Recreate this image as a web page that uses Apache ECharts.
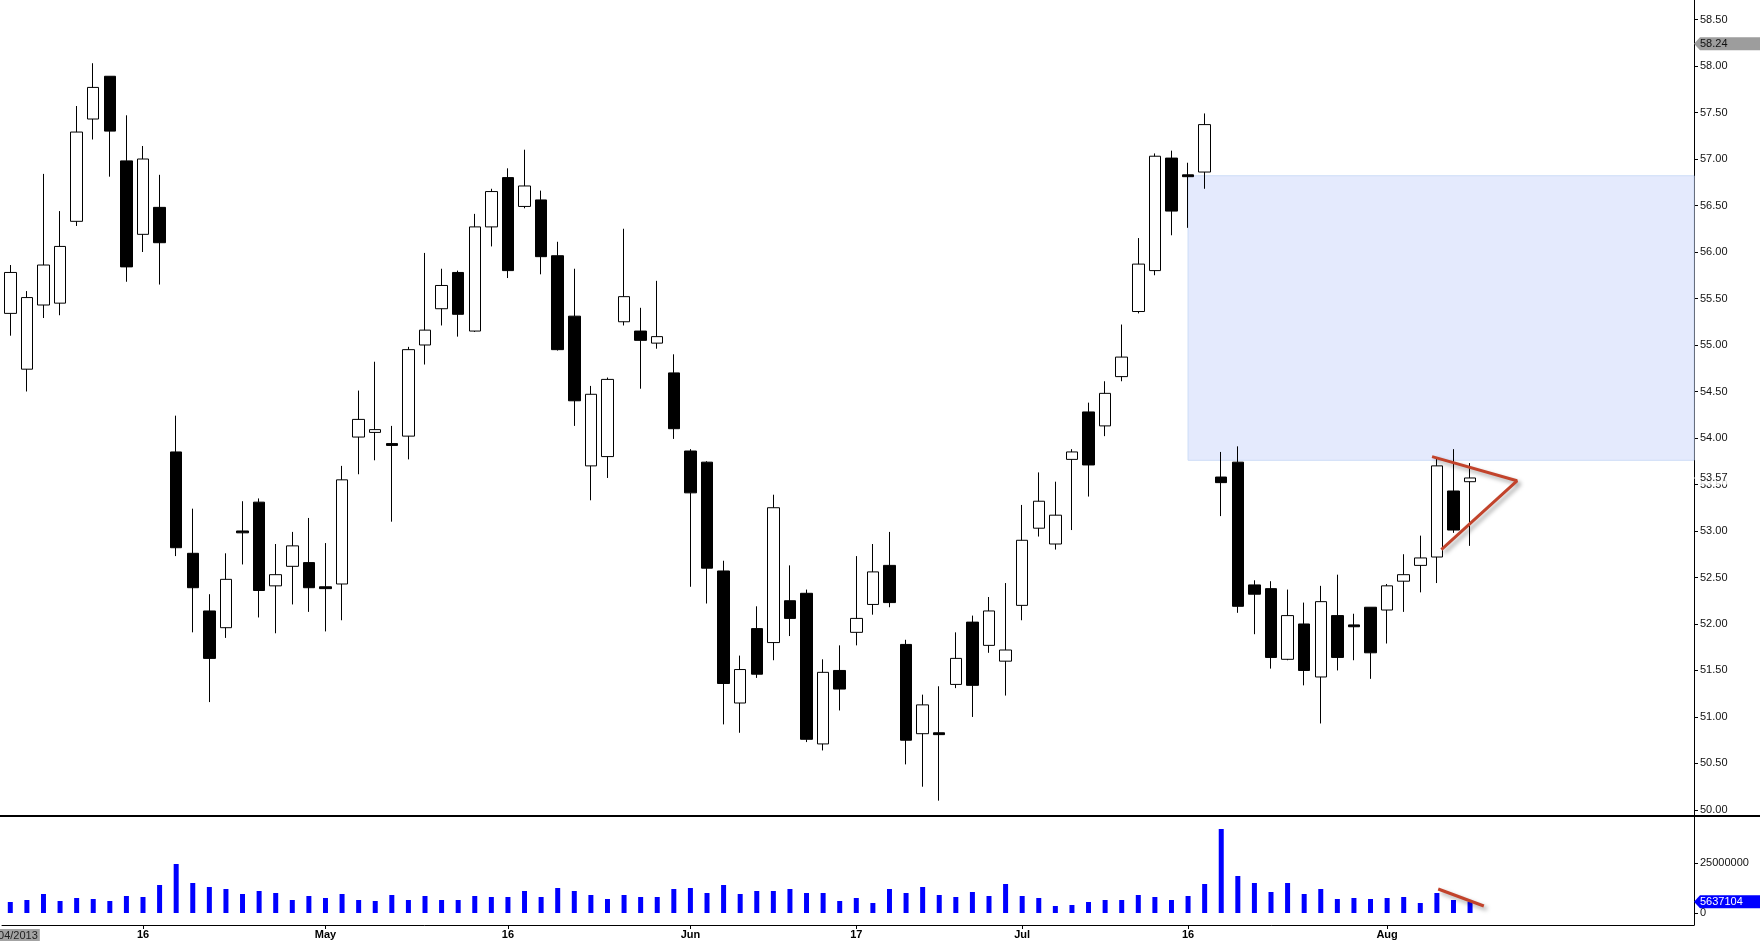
<!DOCTYPE html>
<html>
<head>
<meta charset="utf-8">
<script src="https://cdn.jsdelivr.net/npm/echarts@6/dist/echarts.min.js"></script>
<style>html,body{margin:0;padding:0;background:#fff;overflow:hidden}#c{width:1760px;height:942px}</style>
</head>
<body>
<div id="c"></div>
<script>
// ---- categories (trading days, 2013) ----
const dates = [
 '2013-04-04','2013-04-05','2013-04-08','2013-04-09','2013-04-10','2013-04-11','2013-04-12','2013-04-15','2013-04-16','2013-04-17',
 '2013-04-18','2013-04-19','2013-04-22','2013-04-23','2013-04-24','2013-04-25','2013-04-26','2013-04-29','2013-04-30','2013-05-01',
 '2013-05-02','2013-05-03','2013-05-06','2013-05-07','2013-05-08','2013-05-09','2013-05-10','2013-05-13','2013-05-14','2013-05-15',
 '2013-05-16','2013-05-17','2013-05-20','2013-05-21','2013-05-22','2013-05-23','2013-05-24','2013-05-28','2013-05-29','2013-05-30',
 '2013-05-31','2013-06-03','2013-06-04','2013-06-05','2013-06-06','2013-06-07','2013-06-10','2013-06-11','2013-06-12','2013-06-13',
 '2013-06-14','2013-06-17','2013-06-18','2013-06-19','2013-06-20','2013-06-21','2013-06-24','2013-06-25','2013-06-26','2013-06-27',
 '2013-06-28','2013-07-01','2013-07-02','2013-07-03','2013-07-05','2013-07-08','2013-07-09','2013-07-10','2013-07-11','2013-07-12',
 '2013-07-15','2013-07-16','2013-07-17','2013-07-18','2013-07-19','2013-07-22','2013-07-23','2013-07-24','2013-07-25','2013-07-26',
 '2013-07-29','2013-07-30','2013-07-31','2013-08-01','2013-08-02','2013-08-05','2013-08-06','2013-08-07','2013-08-08','2013-08-09',
 '2013-08-12','2013-08-13','2013-08-14','2013-08-15','2013-08-16','2013-08-19','2013-08-20','2013-08-21','2013-08-22','2013-08-23',
 '2013-08-26','2013-08-27'
];

// ---- OHLC ----
const openP = [55.34,54.74,55.43,55.45,56.33,57.43,57.89,56.98,56.19,56.48,
 53.85,52.76,52.14,51.96,53.00,53.31,52.41,52.62,52.66,52.40,
 52.43,54.01,54.06,53.94,54.02,55.00,55.39,55.78,55.15,56.27,
 56.80,56.49,56.56,55.96,55.31,53.70,53.80,55.25,55.15,55.02,
 54.70,53.86,53.74,52.57,51.15,51.95,51.80,52.25,52.33,50.71,
 51.50,51.91,52.21,52.63,51.78,50.82,50.83,51.35,52.02,51.77,
 51.60,52.20,53.03,52.86,53.77,54.28,54.13,54.66,55.36,55.80,
 57.01,56.83,56.86,53.58,53.74,52.42,52.38,51.62,52.00,51.43,
 52.09,51.99,52.18,52.15,52.46,52.63,52.72,53.43,53.53];
const closeP = [55.78,55.51,55.86,56.06,57.29,57.77,57.30,55.84,57.00,56.10,
 52.82,52.39,51.63,52.48,52.98,52.36,52.53,52.84,52.39,52.38,
 53.55,54.20,54.09,53.92,54.95,55.16,55.64,55.33,56.27,56.65,
 55.80,56.71,55.95,54.95,54.40,54.47,54.63,55.52,55.05,55.09,
 54.10,53.41,52.60,51.36,51.51,51.46,53.25,52.06,50.76,51.48,
 51.30,52.06,52.56,52.23,50.75,51.13,50.81,51.63,51.34,52.14,
 51.72,52.90,53.32,53.17,53.85,53.71,54.48,54.87,55.87,57.03,
 56.44,56.81,57.37,53.52,52.19,52.32,51.64,52.09,51.50,52.24,
 51.64,51.97,51.69,52.41,52.53,52.71,53.70,53.01,53.57];
const lowP = [55.10,54.50,55.29,55.32,56.28,57.21,56.81,55.68,56.00,55.65,
 52.73,51.91,51.16,51.85,52.64,52.07,51.90,52.21,52.13,51.92,
 52.04,53.61,53.76,53.10,53.77,54.79,55.21,55.09,55.14,56.06,
 55.72,56.47,55.76,54.94,54.13,53.33,53.57,55.21,54.53,54.96,
 53.99,52.40,52.22,50.92,50.83,51.42,51.61,51.87,50.73,50.64,
 51.07,51.77,52.10,52.18,50.49,50.25,50.10,51.31,51.00,51.69,
 51.23,52.04,52.94,52.80,53.01,53.37,54.02,54.61,55.34,55.75,
 56.18,56.26,56.68,53.16,52.12,51.89,51.52,51.61,51.34,50.93,
 51.50,51.61,51.41,51.79,52.13,52.34,52.44,52.98,52.84];
const highP = [55.86,55.58,56.84,56.44,57.57,58.03,57.89,57.47,57.14,56.83,
 54.24,53.24,52.32,52.76,53.32,53.35,52.86,52.99,53.14,52.87,
 53.70,54.51,54.82,54.13,54.98,55.99,55.82,55.80,56.41,56.68,
 56.90,57.10,56.66,56.11,55.82,54.56,54.65,56.25,55.40,55.69,
 54.90,53.88,53.75,52.68,51.66,52.19,53.39,52.63,52.37,51.62,
 51.77,52.73,52.86,52.99,51.83,51.24,51.33,51.91,52.09,52.29,
 52.44,53.28,53.63,53.53,53.88,54.38,54.61,55.22,56.15,57.06,
 57.09,56.96,57.49,53.85,53.91,52.47,52.46,52.37,52.23,52.41,
 52.53,52.11,52.18,52.43,52.75,52.95,53.78,53.88,53.73];

// ---- volume ----
const volume = [5500000,6500000,9500000,6000000,7500000,7000000,6000000,8500000,8000000,14000000,
 24500000,15000000,13000000,12000000,9500000,11000000,10000000,6500000,8500000,7500000,
 9500000,6500000,6000000,9000000,6500000,8500000,6500000,6500000,8500000,8000000,
 8000000,11000000,8000000,12500000,11000000,9000000,7000000,9000000,8000000,8000000,
 12000000,12500000,10000000,14000000,9500000,11000000,11000000,12000000,10000000,10000000,
 6000000,7500000,5000000,12000000,10000000,13000000,9000000,8000000,10500000,8500000,
 14500000,8500000,7500000,3500000,4000000,5500000,6500000,6500000,9000000,8000000,
 6500000,8500000,14500000,42000000,18500000,15000000,10500000,15000000,9500000,12000000,
 7000000,7500000,7000000,7500000,8000000,5000000,10000000,6500000,5637104];

// ---- axis ticks / labels ----
const priceTicks = [50,50.5,51,51.5,52,52.5,53,53.5,54,54.5,55,55.5,56,56.5,57,57.5,58,58.5];
const volumeTicks = [0, 25000000];
const dateTickLabels = {'2013-04-16':'16','2013-05-01':'May','2013-05-16':'16','2013-06-03':'Jun',
  '2013-06-17':'17','2013-07-01':'Jul','2013-07-16':'16','2013-08-01':'Aug'};
const firstDateLabel = '04/04/2013';

// ---- annotations (data coordinates: [category position, value]) ----
const gapZoneStart = 71;
const gapZoneTop = 56.82;
const gapZoneBottom = 53.76;
const priceTriangle = [[85.71,53.80],[90.83,53.54],[86.27,52.80]];
const volumeTrend = [[86.08,12000000],[88.83,3500000]];
const refPriceLabel = 58.24;
const lastCloseLabel = 53.57;
const lastVolumeLabel = 5637104;

const N = dates.length;
const xMax = N - 0.5;
const candleData = openP.map((o,i)=>[o, closeP[i], lowP[i], highP[i]]);

const chart = echarts.init(document.getElementById('c'), null, {renderer:'canvas'});
const FONT = 'Liberation Sans, Arial, sans-serif';
const arrowBox = 'path://M0,6.5L6,0L66,0L66,13L6,13Z';

function tagPoint(coord, text, bg, fg) {
  return {
    coord: coord,
    symbol: arrowBox,
    symbolSize: [66, 13],
    symbolOffset: [33, 0],
    symbolKeepAspect: false,
    itemStyle: {color: bg},
    label: {show: true, position: 'insideLeft', distance: 6, formatter: text,
            color: fg, fontSize: 11, fontFamily: FONT}
  };
}

const option = {
  animation: false,
  backgroundColor: '#fff',
  grid: [
    {left: 2, right: 66, top: 0, height: 816, outerBoundsMode: 'none', containLabel: false},
    {left: 2, right: 66, top: 816, bottom: 17, outerBoundsMode: 'none', containLabel: false}
  ],
  xAxis: [
    {type:'category', gridIndex:0, data:dates, boundaryGap:true,
     axisLine:{show:false, onZero:false}, axisTick:{show:false}, axisLabel:{show:false}, splitLine:{show:false}},
    {type:'category', gridIndex:1, data:dates, boundaryGap:true, position:'bottom',
     axisLine:{show:true, onZero:false, lineStyle:{color:'#000', width:1}},
     axisTick:{show:true, alignWithLabel:true, length:4, lineStyle:{color:'#000'},
       interval:(i, v)=> dateTickLabels[v] !== undefined},
     axisLabel:{show:true, margin:4, fontSize:11, fontFamily:FONT, color:'#000', fontWeight:'bold',
       interval:(i, v)=> i === 0 || dateTickLabels[v] !== undefined,
       formatter:(v, i)=> i === 0 ? '{d|' + firstDateLabel + '}' : dateTickLabels[v],
       rich:{d:{backgroundColor:'#a3a3a3', color:'#222', fontWeight:'normal', fontSize:11,
                fontFamily:FONT, padding:[1,2,0,2]}}},
     splitLine:{show:false}},
    {type:'value', gridIndex:0, min:-0.5, max:xMax, show:false, axisLine:{onZero:false}},
    {type:'value', gridIndex:1, min:-0.5, max:xMax, show:false, axisLine:{onZero:false}}
  ],
  yAxis: [
    {type:'value', gridIndex:0, position:'right', min:49.935, max:58.71, scale:true,
     axisLine:{show:true, onZero:false, lineStyle:{color:'#000', width:1}},
     axisTick:{show:true, length:4, customValues:priceTicks, lineStyle:{color:'#000'}},
     axisLabel:{show:true, margin:6, customValues:priceTicks, fontSize:11, fontFamily:FONT, color:'#111',
       formatter:(v)=> v.toFixed(2)},
     splitLine:{show:false}},
    {type:'value', gridIndex:1, position:'right', min:-6000000, max:48500000,
     axisLine:{show:true, onZero:false, lineStyle:{color:'#000', width:1}},
     axisTick:{show:true, length:4, customValues:volumeTicks, lineStyle:{color:'#000'}},
     axisLabel:{show:true, margin:6, customValues:volumeTicks, fontSize:11, fontFamily:FONT, color:'#111',
       formatter:(v)=> String(v)},
     splitLine:{show:false}}
  ],
  graphic: [
    {type:'rect', left:0, top:815, z:100, shape:{width:1760, height:2}, style:{fill:'#000'}}
  ],
  series: [
    {
      name:'zone', type:'line', xAxisIndex:2, yAxisIndex:0, z:1,
      data:[[gapZoneStart, gapZoneTop]], symbol:'none', lineStyle:{opacity:0}, clip:false, silent:true,
      markArea:{silent:true,
        itemStyle:{color:'#e4eafd', borderColor:'#cddcf7', borderWidth:1},
        data:[[{coord:[gapZoneStart, gapZoneTop]}, {coord:[xMax, gapZoneBottom]}]]}
    },
    {
      name:'price', type:'candlestick', xAxisIndex:0, yAxisIndex:0, z:3,
      data:candleData, barWidth:12,
      itemStyle:{color:'#fff', color0:'#000', borderColor:'#000', borderColor0:'#000', borderWidth:1}
    },
    {
      name:'triangle', type:'line', xAxisIndex:2, yAxisIndex:0, z:5,
      data:priceTriangle, symbol:'none', clip:false,
      lineStyle:{color:'#c2432b', width:3, shadowColor:'rgba(0,0,0,0.35)', shadowBlur:4, shadowOffsetX:3, shadowOffsetY:3},
      markPoint:{silent:true, data:[
        tagPoint([xMax, refPriceLabel], refPriceLabel.toFixed(2), '#9d9d9d', '#111'),
        tagPoint([xMax, lastCloseLabel], lastCloseLabel.toFixed(2), 'rgba(255,255,255,0.85)', '#111')
      ]}
    },
    {
      name:'volume', type:'bar', xAxisIndex:1, yAxisIndex:1, z:3,
      data:volume, barWidth:5, itemStyle:{color:'#0000ff'}
    },
    {
      name:'volTrend', type:'line', xAxisIndex:3, yAxisIndex:1, z:5,
      data:volumeTrend, symbol:'none', clip:false,
      lineStyle:{color:'#c2432b', width:3, shadowColor:'rgba(0,0,0,0.35)', shadowBlur:4, shadowOffsetX:3, shadowOffsetY:3},
      markPoint:{silent:true, data:[
        tagPoint([xMax, lastVolumeLabel], String(lastVolumeLabel), '#0000ff', '#fff')
      ]}
    }
  ]
};
chart.setOption(option);
</script>
</body>
</html>
